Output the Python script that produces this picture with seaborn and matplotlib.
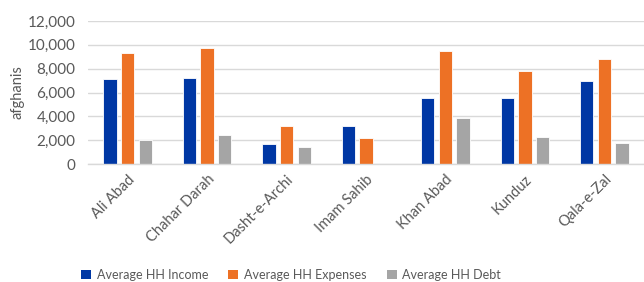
import matplotlib
matplotlib.use("Agg")
import matplotlib.pyplot as plt
import seaborn as sns
import pandas as pd
from matplotlib.ticker import FuncFormatter
from matplotlib.patches import Patch

districts = ["Ali Abad", "Chahar Darah", "Dasht-e-Archi", "Imam Sahib",
             "Khan Abad", "Kunduz", "Qala-e-Zal"]
series_names = ["Average HH Income", "Average HH Expenses", "Average HH Debt"]
income = [7100, 7200, 1700, 3150, 5550, 5500, 7000]
expenses = [9300, 9750, 3150, 2200, 9450, 7800, 8780]
debt = [2000, 2450, 1400, 0, 3900, 2300, 1800]
colors = ["#0037A4", "#ED7125", "#A5A5A5"]

rows = []
for name, vals in zip(series_names, [income, expenses, debt]):
    for d, v in zip(districts, vals):
        rows.append({"district": d, "series": name, "value": v})
df = pd.DataFrame(rows)

sns.set_theme(style="white")
plt.rcParams["font.family"] = ["Lato", "DejaVu Sans"]

fig = plt.figure(figsize=(6.44, 2.82), dpi=100)
ax = fig.add_axes([88/644, 1-164/282, 556/644, (164-21)/282])

sns.barplot(data=df, x="district", y="value", hue="series", hue_order=series_names,
            order=districts, palette=colors, saturation=1, width=0.666, gap=0.24,
            edgecolor="white", linewidth=0.6, errorbar=None, ax=ax, legend=False)

ax.set_ylim(0, 12000)
ax.set_yticks(range(0, 12001, 2000))
ax.yaxis.set_major_formatter(FuncFormatter(lambda v, p: f"{int(v):,}"))
ax.grid(axis="y", color="#D9D9D9", linewidth=1)
ax.set_axisbelow(True)
for s in ["top", "right", "left"]:
    ax.spines[s].set_visible(False)
ax.spines["bottom"].set_color("#D9D9D9")
ax.spines["bottom"].set_linewidth(1)
ax.tick_params(axis="both", length=0, colors="#595959", labelsize=10.5)
ax.tick_params(axis="y", pad=9, labelsize=11)
ax.tick_params(axis="x", pad=6)
plt.setp(ax.get_xticklabels(), rotation=45, ha="right", rotation_mode="anchor")
ax.set_xlabel("")
ax.set_ylabel("afghanis", color="#595959", fontsize=10.5, labelpad=2)

handles = [Patch(facecolor=c, edgecolor="none") for c in colors]
fig.legend(handles, series_names, loc="center left", bbox_to_anchor=(70/644, 1-275/282),
           ncol=3, frameon=False, prop={"family": "Lato", "size": 9},
           handlelength=0.8, handleheight=0.8,
           columnspacing=1.6, handletextpad=0.45, labelcolor="#595959")

fig.savefig("out.png", dpi=100)
